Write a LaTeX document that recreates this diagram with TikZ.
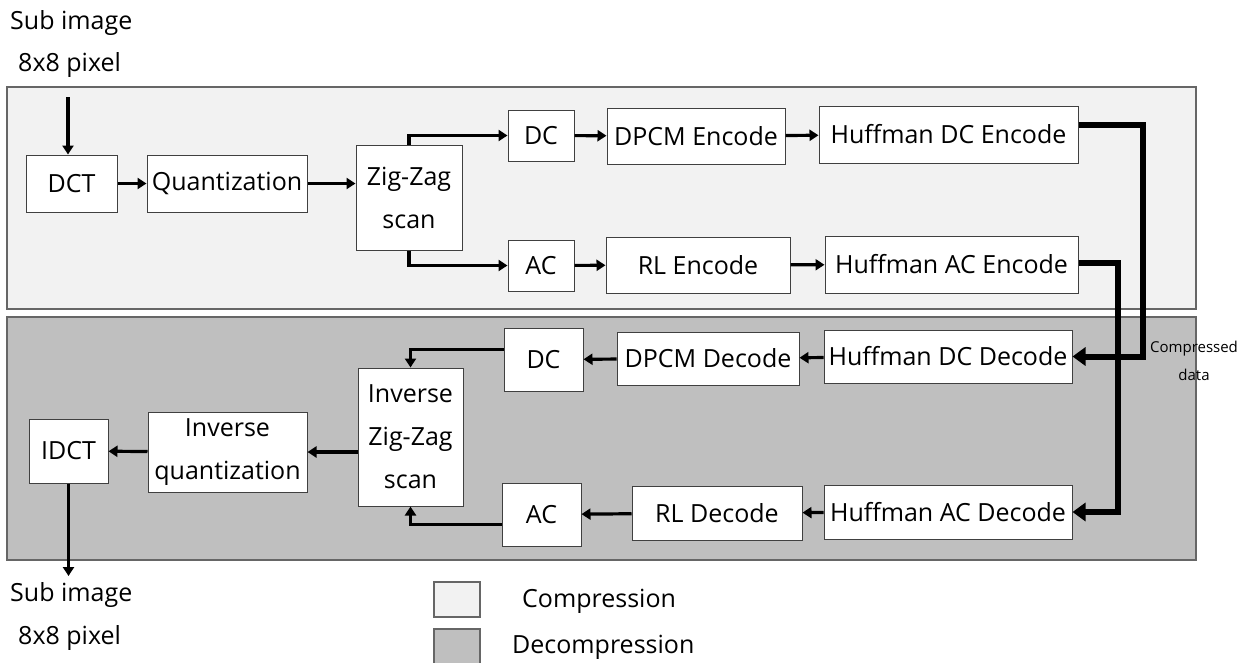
\documentclass[tikz,border=0pt]{standalone}
\usepackage{fontspec}
\setmainfont{Open Sans}
\usepackage{tikz}
\usetikzlibrary{positioning, arrows.meta}

\begin{document}
\begin{tikzpicture}[
    x=1pt, y=-1pt,
    block/.style={rectangle, draw=black!75, line width=1pt, fill=white, inner sep=0pt,
                  align=center, font=\fontsize{25}{43}\selectfont},
    label/.style={inner sep=0pt, font=\fontsize{25}{30}\selectfont},
    small/.style={inner sep=0pt, font=\fontsize{15}{28}\selectfont, align=center},
    panel/.style={draw=black!60, line width=1.2pt},
    arr/.style={line width=3.2pt, -{Triangle[length=9pt, width=11pt]}},
    bus/.style={line width=6pt, -{Triangle[length=13pt, width=18pt]}}
]
    \useasboundingbox (0,0) rectangle (1241,662);

    % --- Panels
    \fill[black!5] (7,87) rectangle (1196,309);
    \draw[panel] (7,87) rectangle (1196,309);
    \fill[black!25] (7,317) rectangle (1196,560);
    \draw[panel] (7,317) rectangle (1196,560);

    % --- Input
    \node[label, anchor=west] (subin) at (10,23) {Sub image};
    \node[label, anchor=west] (pixin) at (18,65) {8x8 pixel};
    \coordinate (top) at (68,97);

    % --- Compression (top row)
    \node[block, minimum width=91pt, minimum height=57pt] (dct) at (71.5,183.5) {DCT};
    \node[block, minimum width=160pt, minimum height=57pt] (quant) at (227,183.5) {Quantization};
    \node[block, minimum width=106pt, minimum height=105pt] (zz) at (409,197.5) {Zig-Zag\\scan};

    \node[block, minimum width=66pt, minimum height=51pt] (dce) at (541,135.5) {DC};
    \node[block, minimum width=178pt, minimum height=56pt] (dpcme) at (696,136) {DPCM Encode};
    \node[block, minimum width=259pt, minimum height=57pt] (hdce) at (948.5,134.5) {Huffman DC Encode};

    \node[block, minimum width=66pt, minimum height=51pt] (ace) at (541,265.5) {AC};
    \node[block, minimum width=184pt, minimum height=56pt] (rle) at (698,265) {RL Encode};
    \node[block, minimum width=253pt, minimum height=57pt] (hace) at (951.5,264.5) {Huffman AC Encode};

    % --- Decompression (bottom row)
    \node[block, minimum width=248pt, minimum height=53pt] (hdcd) at (948,356.5) {Huffman DC Decode};
    \node[block, minimum width=182pt, minimum height=53pt] (dpcmd) at (708,358.5) {DPCM Decode};
    \node[block, minimum width=79pt, minimum height=63pt] (dcd) at (543.5,359.5) {DC};

    \node[block, minimum width=248pt, minimum height=54pt] (hacd) at (948,512) {Huffman AC Decode};
    \node[block, minimum width=170pt, minimum height=54pt] (rld) at (717,513) {RL Decode};
    \node[block, minimum width=79pt, minimum height=63pt] (acd) at (541.5,514.5) {AC};

    \node[block, minimum width=105pt, minimum height=138pt] (izz) at (410.5,437) {Inverse\\Zig-Zag\\scan};
    \node[block, minimum width=159pt, minimum height=80pt] (iquant) at (227.5,452) {Inverse\\quantization};
    \node[block, minimum width=79pt, minimum height=64pt] (idct) at (68.5,451) {IDCT};

    % --- Output
    \coordinate (out) at (68.5,576);
    \node[label, anchor=west] (subout) at (10,595) {Sub image};
    \node[label, anchor=west] (pixout) at (18,638) {8x8 pixel};

    % --- Compressed data
    \coordinate (busdc) at (1143,0);
    \coordinate (busac) at (1118,0);
    \node[small] (cdata) at (1194,361) {Compressed\\data};

    % --- Arrows, compression
    \draw[arr] (top) -- (top |- dct.north);
    \draw[arr] (dct) -- (quant);
    \draw[arr] (quant) -- (quant -| zz.west);
    \draw[arr] (zz.north) |- (dce);
    \draw[arr] (zz.south) |- (ace);
    \draw[arr] (dce) -- (dpcme);
    \draw[arr] (dpcme) -- (hdce);
    \draw[arr] (ace) -- (rle);
    \draw[arr] (rle) -- (hace);

    % --- Arrows, compressed data
    \draw[bus] ([yshift=9.5pt]hdce.east) -- ([yshift=9.5pt]hdce.east -| busdc) -- (busdc |- hdcd.east) -- (hdcd.east);
    \draw[bus] ([yshift=1.5pt]hace.east) -- ([yshift=1.5pt]hace.east -| busac) -- (busac |- hacd.east) -- (hacd.east);

    % --- Arrows, decompression
    \draw[arr] (hdcd) -- (dpcmd);
    \draw[arr] (dpcmd) -- (dcd);
    \draw[arr] ([yshift=10pt]dcd.west) -| (izz.north);
    \draw[arr] (hacd) -- (rld);
    \draw[arr] (rld) -- (acd);
    \draw[arr] ([yshift=-10pt]acd.west) -| (izz.south);
    \draw[arr] (izz.west |- iquant.east) -- (iquant.east);
    \draw[arr] (iquant) -- (idct);
    \draw[arr] (idct) -- (out);

    % --- Legend
    \node[panel, fill=black!5, minimum width=46pt, minimum height=35pt, inner sep=0pt] (legc) at (457,599.5) {};
    \node[label, anchor=west] (legctext) at (522,601) {Compression};
    \draw[panel, fill=black!25] (434,629) rectangle (480,664);
    \node[label, anchor=west] (legdtext) at (512,647) {Decompression};

\end{tikzpicture}
\end{document}
